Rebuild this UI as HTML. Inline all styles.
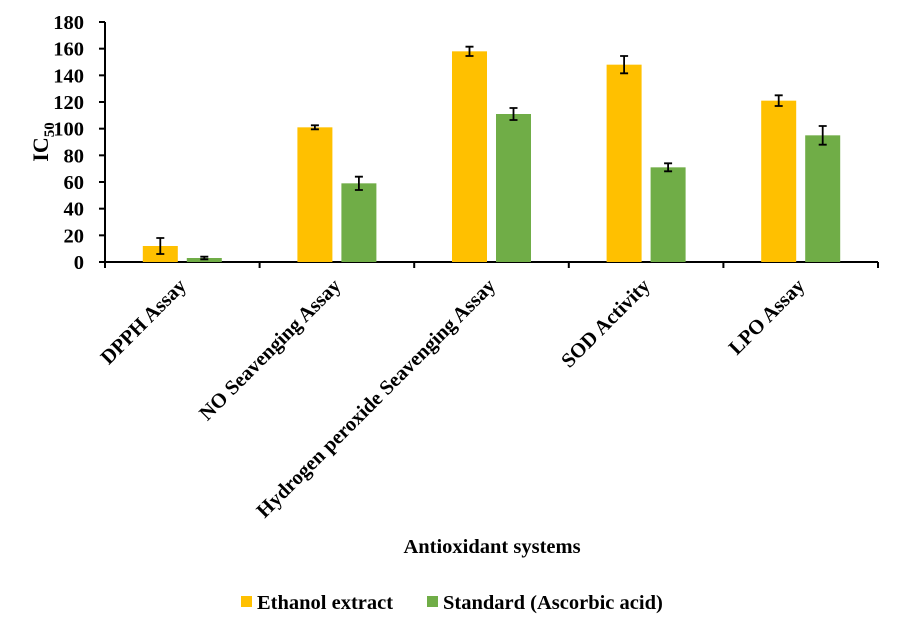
<!DOCTYPE html>
<html><head><meta charset="utf-8"><style>
body{margin:0;background:#fff;}
svg text{font-family:"Liberation Serif",serif;font-weight:bold;fill:#000;}
</style></head><body>
<svg id="chart" width="900" height="632" xmlns="http://www.w3.org/2000/svg">
<g id="plot"></g>
<text transform="translate(48,142) rotate(-90)" text-anchor="middle" font-size="22">IC<tspan font-size="15" dy="6">50</tspan></text>
<text x="492" y="553" text-anchor="middle" font-size="20.5">Antioxidant  systems</text>
<g>
<rect x="241" y="596" width="11" height="11" fill="#FFC000"/>
<text x="257" y="609" font-size="20.5">Ethanol extract</text>
<rect x="427" y="596" width="11" height="11" fill="#70AD47"/>
<text x="443" y="609" font-size="20.5">Standard (Ascorbic acid)</text>
</g>
</svg>
<script>
const categories=["DPPH Assay","NO Seavenging Assay","Hydrogen peroxide Seavenging Assay","SOD Activity","LPO Assay"];
const ethanol=[12,101,158,148,121];
const ethanolErr=[6,1.5,3.5,6.5,4];
const standard=[3,59,111,71,95];
const standardErr=[1,5,4.5,3,7];
const yTicks=[0,20,40,60,80,100,120,140,160,180];
const NS="http://www.w3.org/2000/svg";
const g=document.getElementById('plot');
const X0=105,X1=878,Y0=262,Y1=22,YMAX=180;
const cw=(X1-X0)/categories.length;
const y=v=>Y0-(v/YMAX)*(Y0-Y1);
function mk(t,a){const e=document.createElementNS(NS,t);for(const k in a)e.setAttribute(k,a[k]);g.appendChild(e);return e;}
let e=mk('line',{x1:X0,y1:Y1,x2:X0,y2:Y0+1,stroke:'#000','stroke-width':2});


e=mk('line',{x1:X0-1,y1:Y0,x2:X1,y2:Y0,stroke:'#000','stroke-width':2});


yTicks.forEach(t=>{
 const tk=mk('line',{x1:X0-6,x2:X0,y1:y(t),y2:y(t),stroke:'#000','stroke-width':2});
 
 
 const tl=mk('text',{x:X0-21,y:y(t)+7,'text-anchor':'end','font-size':20.5});
 tl.textContent=t;
 
 
});
for(let i=0;i<=categories.length;i++){
 const tk=mk('line',{x1:X0+i*cw,x2:X0+i*cw,y1:Y0,y2:Y0+6,stroke:'#000','stroke-width':2});
 
 
}
const bw=35;
function bar(v,err,cx,color,name){
 const r=mk('rect',{x:cx-bw/2,y:y(v),width:bw,height:Y0-y(v),fill:color});
 
 
 const top=y(v+err),bot=y(v-err);
 const eb=mk('path',{d:`M${cx},${top}V${bot}M${cx-4},${top}H${cx+4}M${cx-4},${bot}H${cx+4}`,stroke:'#000','stroke-width':1.8,fill:'none'});
 
 
}
categories.forEach((c,i)=>{
 const cc=X0+cw*(i+0.5);
 bar(ethanol[i],ethanolErr[i],cc-22,'#FFC000','bar-ethanol-'+i);
 bar(standard[i],standardErr[i],cc+22,'#70AD47','bar-standard-'+i);
 const t=mk('text',{transform:`translate(${cc+5},${Y0+25}) rotate(-45)`,'text-anchor':'end','font-size':20.5});
 t.textContent=c;
 
 
});
</script>
</body></html>
